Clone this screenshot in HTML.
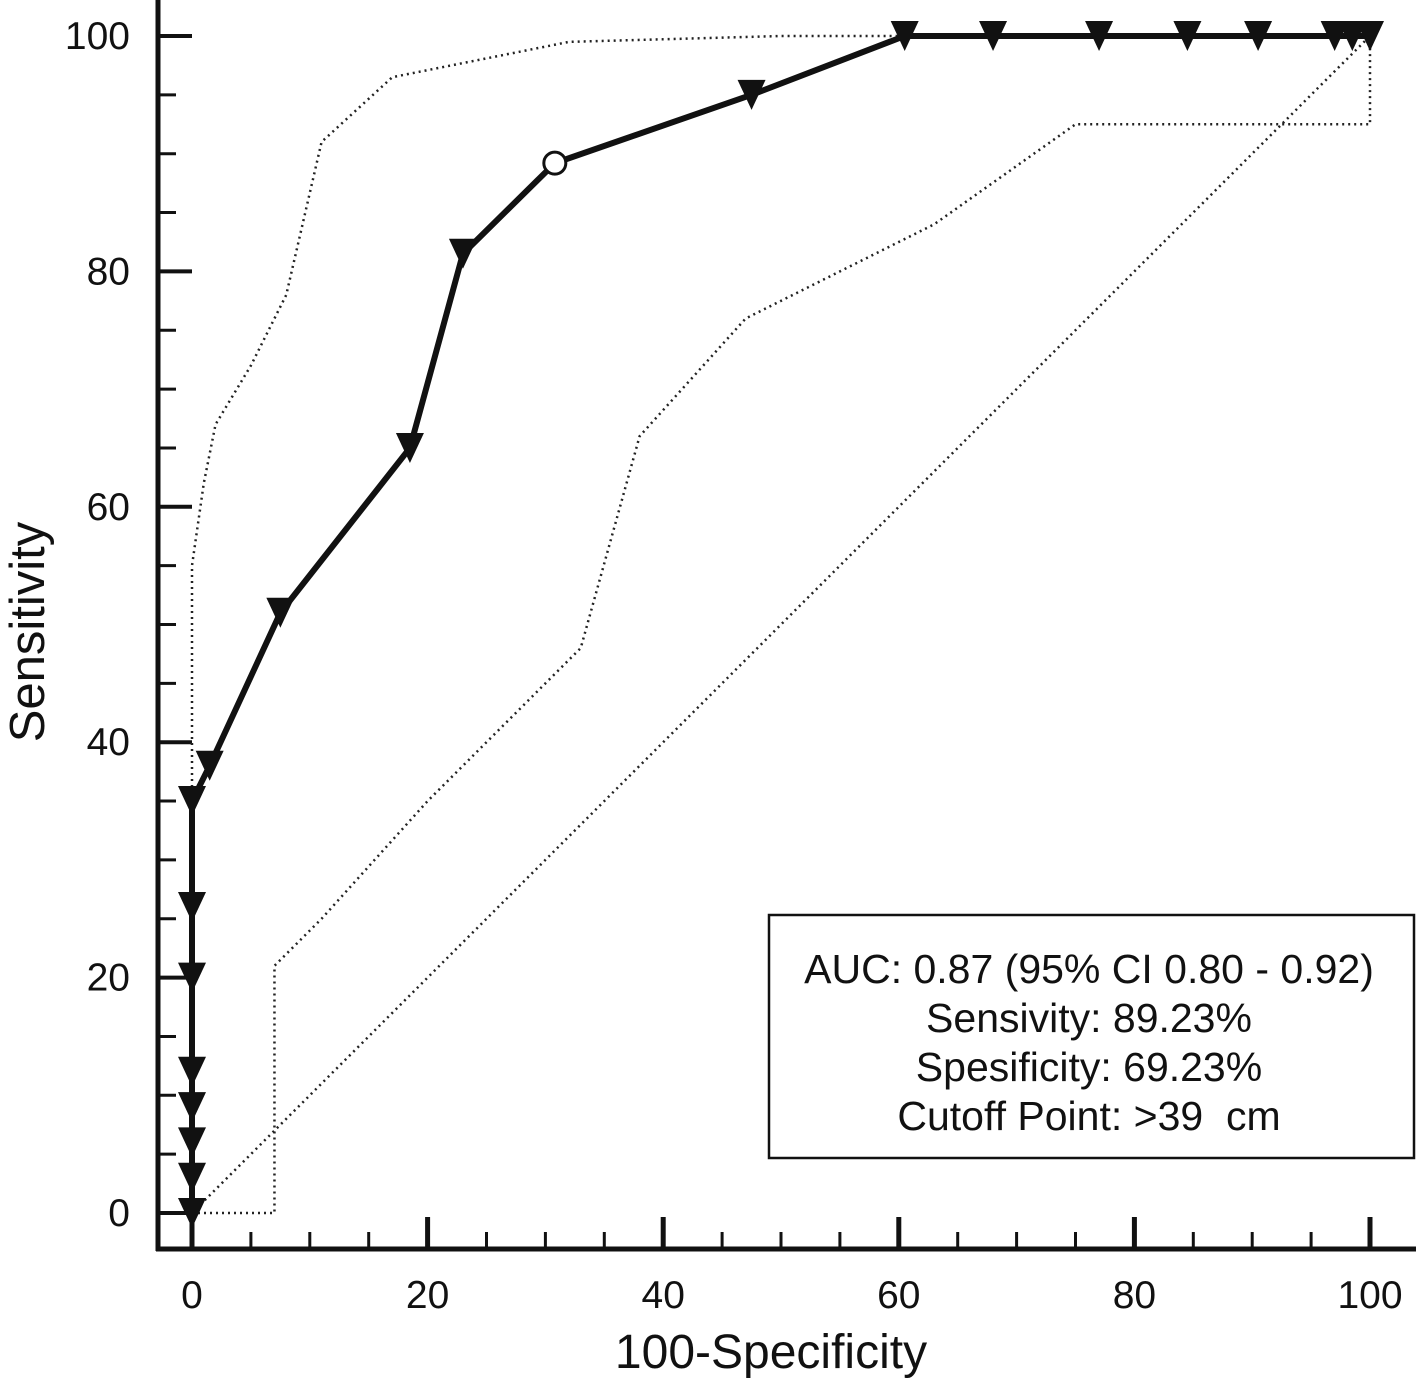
<!DOCTYPE html>
<html><head><meta charset="utf-8"><style>
body{margin:0;background:#fff}
svg text{font-family:"Liberation Sans",sans-serif;fill:#111;white-space:pre}
</style></head><body>
<svg id="chart" width="1416" height="1379" xmlns="http://www.w3.org/2000/svg"></svg>
<script>
const rocX=[0,0,0,0,0,0,0,0,1.5,7.5,18.5,23,47.5,60.5,68,77,84.5,90.5,97,98.5,100];
const rocY=[0,3,6,9,12,20,26,35,38,51,65,81.5,95,100,100,100,100,100,100,100,100];
const lineX=[0,0,1.5,7.5,18.5,23,30.8,47.5,60.5,100];
const lineY=[0,35,38,51,65,81.5,89.2,95,100,100];
const cutoffX=[30.8];const cutoffY=[89.2];
const upperX=[0,0,1,2,5,8,11,17,32,50,75,100];
const upperY=[0,55,62,67,72,78,91,96.5,99.5,100,100,100];
const lowerX=[0,7,7,11,20,33,38,47,63,75,100,100];
const lowerY=[0,0,21,25,35,48,66,76,84,92.5,92.5,100];
const diagX=[0,100];const diagY=[0,100];
const ticks=[0,20,40,60,80,100];
const ns="http://www.w3.org/2000/svg",svg=document.getElementById('chart');
const sx=v=>192+v*11.78, sy=v=>1213-v*11.77;
function el(t,a,p){const e=document.createElementNS(ns,t);for(const k in a)e.setAttribute(k,a[k]);(p||svg).appendChild(e);return e;}
function pts(X,Y){return X.map((x,i)=>sx(x)+','+sy(Y[i])).join(' ');}
let a=el('line',{x1:158,y1:0,x2:158,y2:1251,stroke:'#111','stroke-width':5});

a=el('line',{x1:156,y1:1249,x2:1416,y2:1249,stroke:'#111','stroke-width':5});

for(let v=0;v<=100;v+=5){const maj=v%20===0;
 let t=el('line',{x1:158,x2:maj?192:176,y1:sy(v),y2:sy(v),stroke:'#111','stroke-width':maj?4:3});
 
 t=el('line',{x1:sx(v),x2:sx(v),y1:1249,y2:maj?1217:1232,stroke:'#111','stroke-width':maj?5:3});
 }
ticks.forEach(v=>{
 let t=el('text',{x:130,y:sy(v)+13,'text-anchor':'end','font-size':39});t.textContent=v;
 
 t=el('text',{x:sx(v),y:1308,'text-anchor':'middle','font-size':39});t.textContent=v;
 });
let t=el('text',{x:771,y:1368,'text-anchor':'middle','font-size':48});t.textContent='100-Specificity';

t=el('text',{x:0,y:0,'text-anchor':'middle','font-size':49,transform:'translate(44,632) rotate(-90)'});t.textContent='Sensitivity';

[[upperX,upperY,'upper-ci-line'],[lowerX,lowerY,'lower-ci-line'],[diagX,diagY,'reference-diagonal']].forEach(d=>{
 const p=el('polyline',{points:pts(d[0],d[1]),fill:'none',stroke:'#222','stroke-width':2.5,'stroke-dasharray':'2,4'});
 });
const r=el('polyline',{points:pts(lineX,lineY),fill:'none',stroke:'#111','stroke-width':6,'stroke-linejoin':'round'});

rocX.forEach((x,i)=>{const cx=sx(x),cy=sy(rocY[i]);
 const m=el('polygon',{points:`${cx-14},${cy-15} ${cx+14},${cy-15} ${cx},${cy+15}`,fill:'#111'});
 });
cutoffX.forEach((x,i)=>{const c=el('circle',{cx:sx(x),cy:sy(cutoffY[i]),r:11,fill:'#fff',stroke:'#111','stroke-width':3});
 });
const g=el('g',{});
el('rect',{x:769,y:915,width:645,height:243,fill:'#fff',stroke:'#111','stroke-width':2.5},g);
['AUC: 0.87 (95% CI 0.80 - 0.92)','Sensivity: 89.23%','Spesificity: 69.23%','Cutoff Point: >39  cm'].forEach((s,i)=>{
 const tx=el('text',{x:1089,y:983+i*49,'text-anchor':'middle','font-size':41},g);tx.textContent=s;
 });
</script>
</body></html>
